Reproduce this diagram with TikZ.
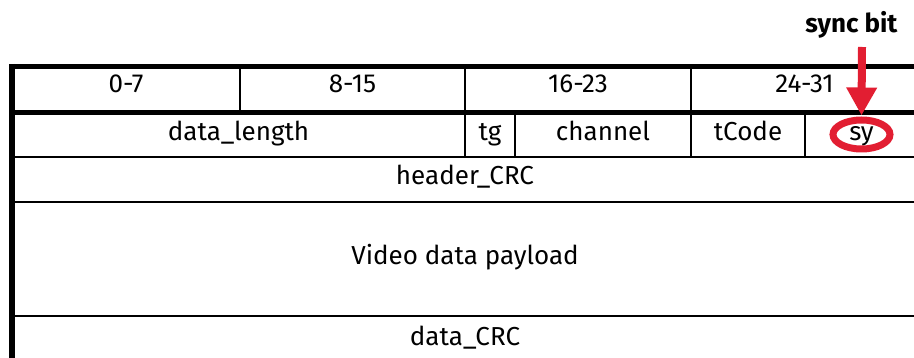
\documentclass[tikz,border=0pt]{standalone}
\usepackage{fontspec}
\setmainfont{Fira Sans}
\usetikzlibrary{arrows.meta,shapes.geometric}
\definecolor{syncred}{RGB}{226,30,50}
\begin{document}
\begin{tikzpicture}[x=1pt,y=-1pt,
  thickrule/.style={line width=5pt},
  thinrule/.style={line width=2pt},
  cell/.style={anchor=base,inner sep=0pt,font=\fontsize{26}{30}\selectfont},
  marker/.style={draw=syncred,line width=7pt,ellipse,minimum width=57pt,minimum height=29pt,inner sep=0pt},
  syncarrow/.style={draw=syncred,line width=8pt,-{Triangle[length=28pt,width=29pt]}}]
\useasboundingbox (0,0) rectangle (914,358);
% table rules
\draw[line width=6pt] (12,64) -- (12,362);
\draw[thickrule] (9,66.5) -- (925,66.5);
\draw[thickrule] (9,113) -- (925,113);
\draw[thinrule] (12,157.5) -- (925,157.5);
\draw[thinrule] (12,202.5) -- (925,202.5);
\draw[thinrule] (12,316.5) -- (925,316.5);
% header row dividers
\draw[thinrule] (239.5,66) -- (239.5,113);
\draw[thinrule] (465,66) -- (465,113);
\draw[thinrule] (691,66) -- (691,113);
% second row dividers
\draw[thinrule] (465,113) -- (465,157.5);
\draw[thinrule] (515,113) -- (515,157.5);
\draw[thinrule] (691,113) -- (691,157.5);
\draw[thinrule] (805,113) -- (805,157.5);
% header labels
\node[cell] (b0) at (126,93) {0-7};
\node[cell] (b8) at (352.5,93) {8-15};
\node[cell] (b16) at (578,93) {16-23};
\node[cell] (b24) at (804.5,93) {24-31};
% second row
\node[cell] (dlen) at (238.5,141) {data\_length};
\node[cell] (tg) at (490,141) {tg};
\node[cell] (chan) at (603,141) {channel};
\node[cell] (tcode) at (748,141) {tCode};
\node[cell] (sy) at (861.5,141) {sy};
% other rows
\node[cell] (hcrc) at (465,185) {header\_CRC};
\node[cell] (pay) at (465,265) {Video data payload};
\node[cell] (dcrc) at (465,345) {data\_CRC};
% sync bit callout
\node[marker] (syc) at (861.5,134.5) {};
\node[cell,font=\fontsize{26}{30}\selectfont\bfseries] (lbl) at (851.5,33) {sync bit};
\coordinate (atop) at (862,47);
\draw[syncarrow] (atop) -- ([yshift=1pt]syc.north);
\end{tikzpicture}
\end{document}
